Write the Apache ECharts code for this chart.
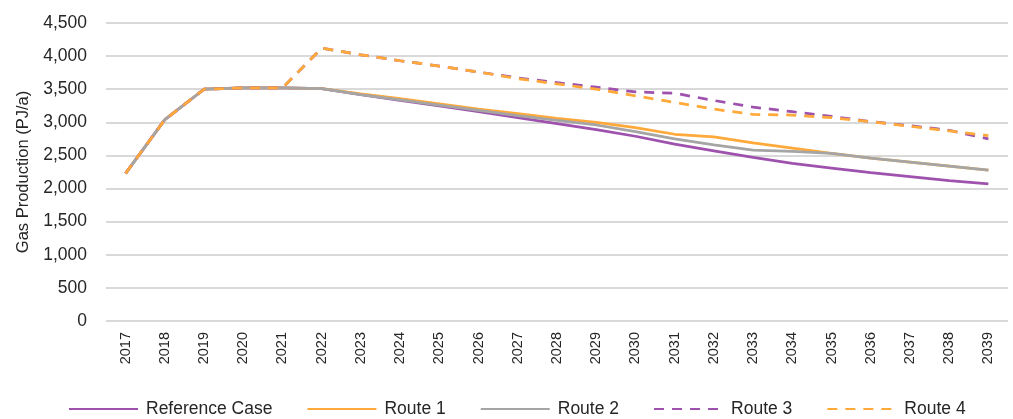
<!DOCTYPE html>
<html><head><meta charset="utf-8">
<script src="https://cdn.jsdelivr.net/npm/echarts@6/dist/echarts.min.js"></script>
<style>html,body{margin:0;padding:0;background:#fff}#c{width:1013px;height:419px}</style>
</head><body><div id="c"></div>
<script>
const years = ['2017','2018','2019','2020','2021','2022','2023','2024','2025','2026','2027','2028','2029','2030','2031','2032','2033','2034','2035','2036','2037','2038','2039'];
const referenceCase = [2230,3040,3500,3520,3520,3510,3420,3330,3250,3160,3070,2980,2890,2790,2670,2570,2470,2380,2310,2240,2180,2120,2070];
const route1 = [2230,3040,3500,3520,3520,3510,3430,3360,3280,3200,3130,3060,3000,2920,2820,2780,2690,2610,2530,2460,2400,2340,2280];
const route2 = [2230,3040,3500,3520,3520,3510,3420,3340,3260,3180,3100,3030,2960,2860,2750,2660,2580,2560,2530,2460,2400,2340,2280];
const route3 = [2230,3040,3500,3520,3520,4120,4020,3930,3850,3760,3670,3600,3530,3460,3440,3330,3230,3160,3090,3010,2950,2880,2750];
const route4 = [2230,3040,3500,3520,3520,4120,4020,3930,3850,3760,3660,3580,3500,3400,3300,3200,3120,3110,3070,3010,2940,2870,2800];
const yTicks = [0,500,1000,1500,2000,2500,3000,3500,4000,4500];

const PURPLE = '#9e52ad', ORANGE = '#ffa93a', GRAY = '#a5a5a5';
const FONT = '"Liberation Sans", Arial, sans-serif';

function mk(name, data, color, dashed) {
  return {
    name, type: 'line', data, symbol: 'none', showSymbol: false, animation: false,
    lineStyle: { color, width: 2.75, type: dashed ? [10, 8] : 'solid' },
    itemStyle: { color }
  };
}

const chart = echarts.init(document.getElementById('c'), null, {renderer: 'canvas'});
chart.setOption({
  animation: false,
  grid: { left: 106, right: 5, top: 23, bottom: 98, containLabel: false },
  xAxis: {
    type: 'category', data: years, boundaryGap: true,
    axisLine: { show: false }, axisTick: { show: false },
    axisLabel: { rotate: 90, margin: 11, fontSize: 14.5, fontFamily: FONT, color: '#262626', interval: 0 }
  },
  yAxis: {
    type: 'value', min: yTicks[0], max: yTicks[yTicks.length-1], interval: 500,
    name: 'Gas Production (PJ/a)', nameLocation: 'middle', nameGap: 74, nameRotate: 90,
    nameTextStyle: { fontSize: 16.5, fontFamily: FONT, color: '#262626' },
    axisLine: { show: false }, axisTick: { show: false },
    axisLabel: { fontSize: 17.5, fontFamily: FONT, color: '#262626', margin: 19,
      formatter: v => v.toLocaleString('en-US') },
    splitLine: { lineStyle: { color: '#d9d9d9', width: 2 } }
  },
  legend: {
    top: 400, left: 68, padding: 0, itemWidth: 69, itemHeight: 16, itemGap: 34,
    itemStyle: { opacity: 0 },
    textStyle: { fontSize: 17.5, fontFamily: FONT, color: '#262626', padding: [0,0,0,3] },
    data: ['Reference Case','Route 1','Route 2','Route 3','Route 4']
  },
  series: [
    mk('Reference Case', referenceCase, PURPLE, false),
    mk('Route 1', route1, ORANGE, false),
    mk('Route 2', route2, GRAY, false),
    mk('Route 3', route3, PURPLE, true),
    mk('Route 4', route4, ORANGE, true)
  ]
});
</script></body></html>
